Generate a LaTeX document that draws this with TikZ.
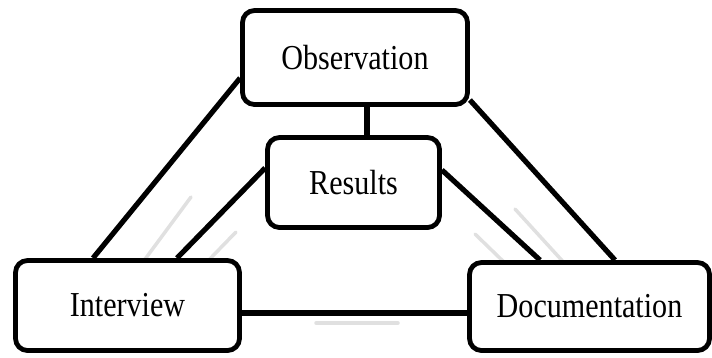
\documentclass[tikz,border=0pt]{standalone}
\usepackage{fontspec}
\setmainfont[FakeStretch=0.86]{Liberation Serif}
\begin{document}
\begin{tikzpicture}[x=1pt,y=-1pt,
  box/.style={draw=black, line width=4.8pt, rounded corners=12pt, fill=white,
    inner sep=0pt, font=\fontsize{35}{40}\selectfont},
  link/.style={draw=black, line width=5.2pt},
  ghost/.style={draw=black!12, line width=3.5pt, line cap=round}]
\useasboundingbox (0,0) rectangle (712,357);
% faint shadow strokes
\draw[ghost] (191,197) -- (140,266);
\draw[ghost] (236,232) -- (203,266);
\draw[ghost] (515,209) -- (567,266);
\draw[ghost] (475,234) -- (508,266);
\draw[ghost] (316,323) -- (398,323);
% boxes
\node[box, minimum width=225pt, minimum height=94pt] (obs) at (355,57.5) {Observation};
\node[box, minimum width=172pt, minimum height=90pt] (res) at (353.5,182.5) {Results};
\node[box, minimum width=224pt, minimum height=90pt] (int) at (127.5,305.5) {Interview};
\node[box, minimum width=240pt, minimum height=88pt] (doc) at (589.5,306.5) {Documentation};
% connectors
\draw[link] (obs.south -| 367,0) -- (res.north -| 367,0);
\draw[link] (obs.west |- 0,78) -- (int.north -| 93,0);
\draw[link] (obs.east |- 0,100) -- (doc.north -| 615,0);
\draw[link] (res.west |- 0,168) -- (int.north -| 177,0);
\draw[link] (res.east |- 0,170) -- (doc.north -| 540,0);
\draw[link] (int.east |- 0,313) -- (doc.west |- 0,313);
\end{tikzpicture}
\end{document}
